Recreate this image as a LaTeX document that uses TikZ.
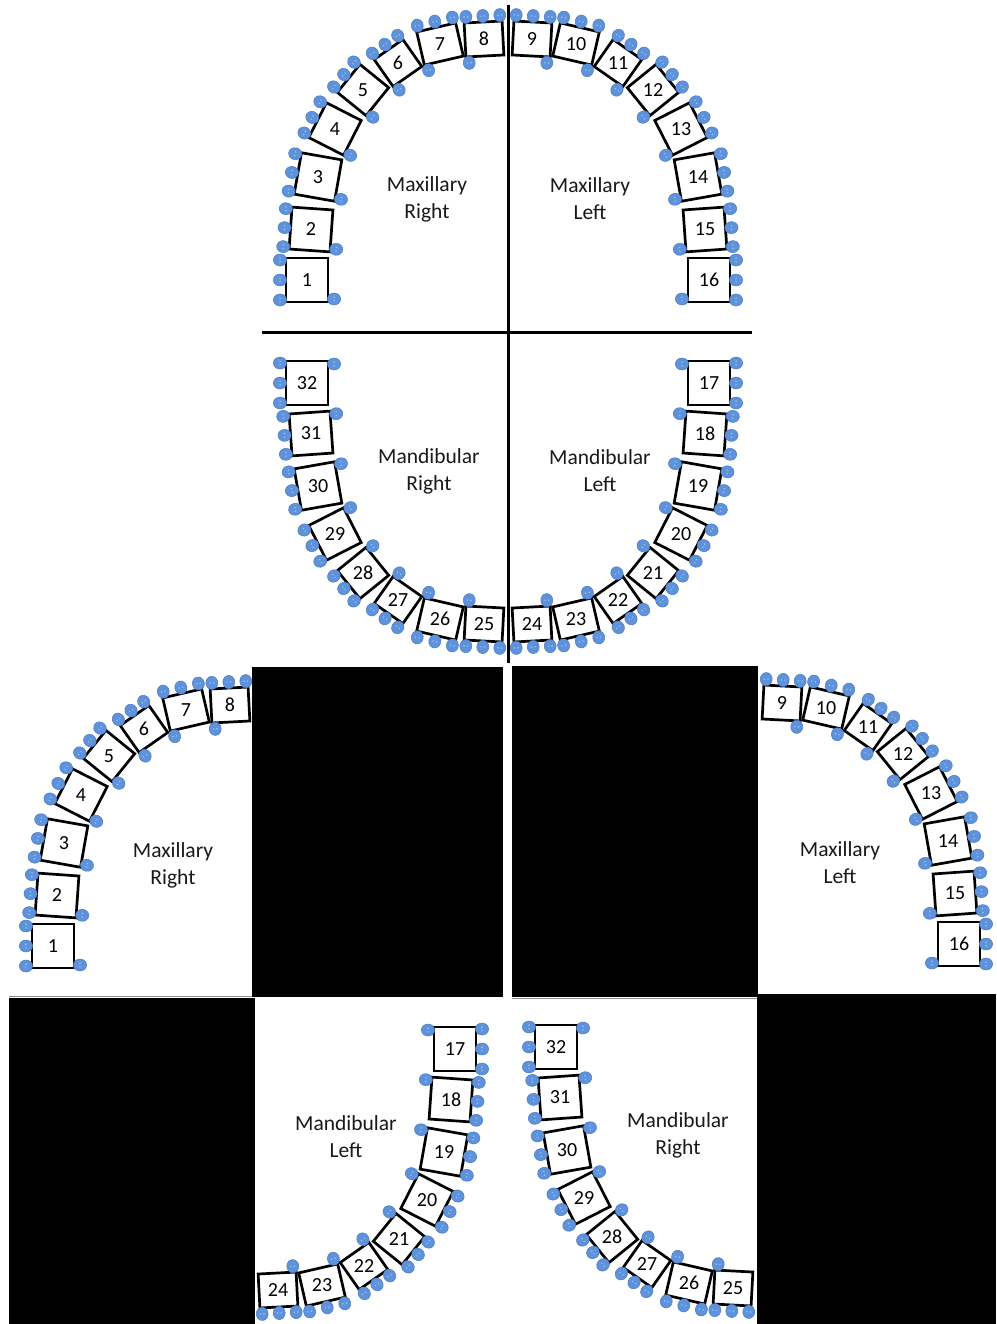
\documentclass[tikz,border=0pt]{standalone}
\usepackage{fontspec}
\setmainfont{Carlito}
\definecolor{dotblue}{HTML}{5E93DB}
\definecolor{dotedge}{HTML}{4A7BC4}
\definecolor{dotmark}{HTML}{A9C5EC}
\tikzset{
  toothbox/.style={draw=black, line width=2.7pt},
  dotst/.style={fill=dotblue, draw=dotedge, line width=0.5pt},
  eyest/.style={fill=dotmark},
  num/.style={font=\fontsize{20}{20}\selectfont, inner sep=0pt},
  qlabel/.style={font=\fontsize{21.5}{27}\selectfont, align=center, text=black!90},
  divider/.style={line width=3pt},
  maskbox/.style={fill=black},
  edgeline/.style={draw=black!45, line width=0.8pt}
}
\newcommand\tdot[2]{%
  \filldraw[dotst] (#1,#2) ellipse [x radius=6pt, y radius=6.6pt];
  \fill[eyest] (#1-1.8,#2) circle [radius=0.8pt];
  \fill[eyest] (#1+1.8,#2) circle [radius=0.8pt];}
% x, y (image), outward angle, tangential width, radial height, label, prefix
\newcommand\tooth[7]{%
 \begin{scope}[shift={(#1,-#2)}, rotate=#3-90]
  \draw[toothbox] (-#4/2,-#5/2) rectangle (#4/2,#5/2);
  \tdot{-#4/2+2}{#5/2+6}
  \tdot{0}{#5/2+6}
  \tdot{#4/2-2}{#5/2+6}
  \tdot{-#4/2+3}{-#5/2-6}
  \node[num] (#7-#6) at (0,0) {#6};
 \end{scope}}
\newcommand\quadrant[2]{%
 \foreach \n/\x/\y/\p/\w/\h in {1/307/280/180/44/42, 2/311/229.5/176/42/41,
   3/318/177/170/42/41, 4/335/129/153/39/39, 5/363/90/141/36/37,
   6/398/63/125/35/33, 7/440/44/103/40/34, 8/484/39/93/38/34}{%
   \pgfmathtruncatemacro\lab{#2}%
   \tooth{\x}{\y}{\p}{\w}{\h}{\lab}{#1}%
 }}
\begin{document}
\begin{tikzpicture}[x=1pt,y=1pt]
\path[use as bounding box, fill=white] (0,0) rectangle (996,-1324);

% ---------- full chart ----------
\begin{scope}
  \quadrant{a}{\n}
\end{scope}
\begin{scope}[xshift=1016pt, xscale=-1]
  \quadrant{b}{17-\n}
\end{scope}
\begin{scope}[yshift=-663pt, yscale=-1]
  \quadrant{c}{33-\n}
\end{scope}
\begin{scope}[xshift=1016pt, yshift=-663pt, xscale=-1, yscale=-1]
  \quadrant{d}{16+\n}
\end{scope}
\coordinate (vtop) at (508,-5);
\coordinate (vbot) at (508,-663);
\coordinate (hl) at (262,-332);
\coordinate (hr) at (752,-332);
\draw[divider] (vtop) -- (vbot);
\draw[divider] (hl) -- (hr);
\node[qlabel] (lmr) at (427,-199) {Maxillary\\Right};
\node[qlabel] (lml) at (590,-199) {Maxillary\\Left};
\node[qlabel] (ldr) at (429,-471) {Mandibular\\Right};
\node[qlabel] (ldl) at (600,-471) {Mandibular\\Left};

% ---------- masks ----------
\fill[maskbox] (252,-667) rectangle (503,-997);
\fill[maskbox] (512,-666) rectangle (758,-997);
\fill[maskbox] (9,-998) rectangle (255,-1324);
\fill[maskbox] (757,-994) rectangle (996,-1324);
\draw[edgeline] (9,-996) -- (252,-996);
\draw[edgeline] (512,-998.5) -- (757,-998.5);

% ---------- separated quadrants ----------
\begin{scope}[shift={(-254,-666)}]
  \quadrant{e}{\n}
\end{scope}
\begin{scope}[shift={(250,-664)}]
 \begin{scope}[xshift=1016pt, xscale=-1]
  \quadrant{f}{17-\n}
 \end{scope}
\end{scope}
\begin{scope}[shift={(-254,-666)}]
 \begin{scope}[xshift=1016pt, yshift=-663pt, xscale=-1, yscale=-1]
  \quadrant{g}{16+\n}
 \end{scope}
\end{scope}
\begin{scope}[shift={(249,-664)}]
 \begin{scope}[yshift=-663pt, yscale=-1]
  \quadrant{h}{33-\n}
 \end{scope}
\end{scope}
\node[qlabel] (cmr) at (173,-865) {Maxillary\\Right};
\node[qlabel] (cml) at (840,-863) {Maxillary\\Left};
\node[qlabel] (cdl) at (346,-1137) {Mandibular\\Left};
\node[qlabel] (cdr) at (678,-1135) {Mandibular\\Right};
\end{tikzpicture}
\end{document}
